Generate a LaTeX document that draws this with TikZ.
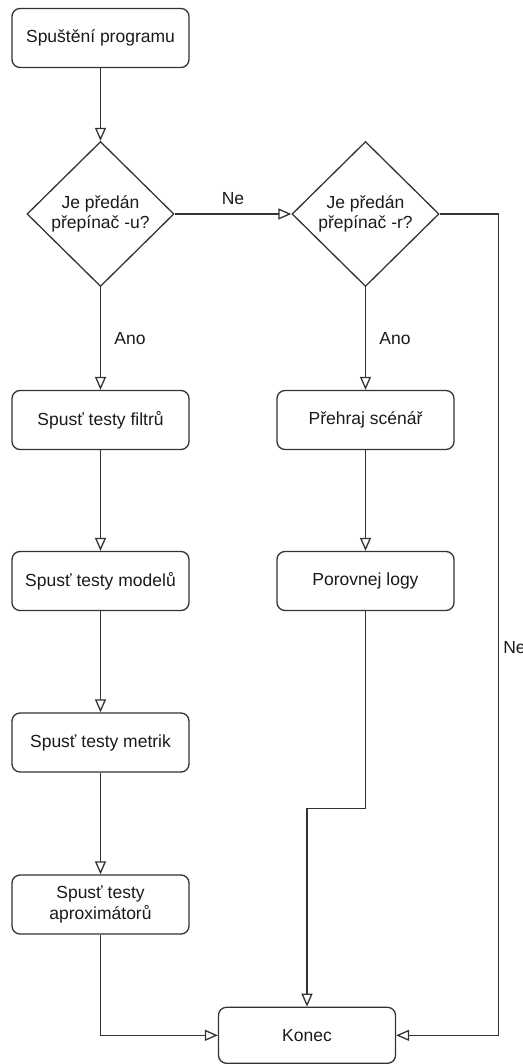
\documentclass[tikz,border=0pt]{standalone}
\usepackage{fontspec}
\setmainfont{Liberation Sans}
\usetikzlibrary{shapes.geometric,arrows.meta,calc}
\definecolor{linec}{HTML}{333333}
\definecolor{txtc}{HTML}{1A1A1A}
\tikzset{
  procbox/.style={draw=linec, line width=1.3pt, rounded corners=8pt, minimum width=177pt, minimum height=59pt, inner sep=0pt, align=center, text=txtc, font=\fontsize{17.5}{20.5}\selectfont},
  decbox/.style={draw=linec, line width=1.3pt, shape=diamond, aspect=1, minimum width=147pt, minimum height=145pt, inner sep=0pt, align=center, text=txtc, font=\fontsize{17.5}{20.5}\selectfont},
  conn/.style={draw=linec, line width=1.3pt, -{Triangle[open, length=13pt, width=11pt, line width=1.3pt]}},
  lbl/.style={text=txtc, font=\fontsize{17.5}{20.5}\selectfont, inner sep=0pt},
}
\begin{document}
\begin{tikzpicture}[x=1pt, y=-1pt]
\useasboundingbox (0,0) rectangle (522,1064);
\node[procbox] (start) at (100.5,38) {Spuštění programu};
\node[decbox] (d1) at (100.5,214) {Je předán\\přepínač -u?};
\node[decbox] (d2) at (365.5,214) {Je předán\\přepínač -r?};
\node[procbox] (filtry) at (100.5,420) {Spusť testy filtrů};
\node[procbox] (scen) at (365.5,420) {Přehraj scénář};
\node[procbox] (modely) at (100.5,581) {Spusť testy modelů};
\node[procbox] (logy) at (365.5,581) {Porovnej logy};
\node[procbox] (metrik) at (100.5,742.5) {Spusť testy metrik};
\node[procbox] (aprox) at (100.5,904.5) {Spusť testy\\aproximátorů};
\node[procbox, minimum height=56pt] (konec) at (307,1035.3) {Konec};

\draw[conn] (start) -- (d1);
\draw[conn] (d1.east) -- node[lbl, midway, yshift=15pt] {Ne} (d2.west);
\draw[conn] (d1.south) -- node[lbl, midway, xshift=29.5pt] {Ano} (filtry.north);
\draw[conn] (d2.south) -- node[lbl, midway, xshift=29.5pt] {Ano} (scen.north);
\draw[conn] (filtry) -- (modely);
\draw[conn] (modely) -- (metrik);
\draw[conn] (metrik) -- (aprox);
\draw[conn] (scen) -- (logy);
\draw[conn] (logy.south) -- ++(0,197.6) -| (konec.north);
\draw[conn] (aprox.south) |- (konec.west);
\draw[conn] (d2.east) -- ++(59,0) |- node[lbl, pos=0.264, anchor=west, xshift=4pt] {Ne} (konec.east);
\end{tikzpicture}
\end{document}
